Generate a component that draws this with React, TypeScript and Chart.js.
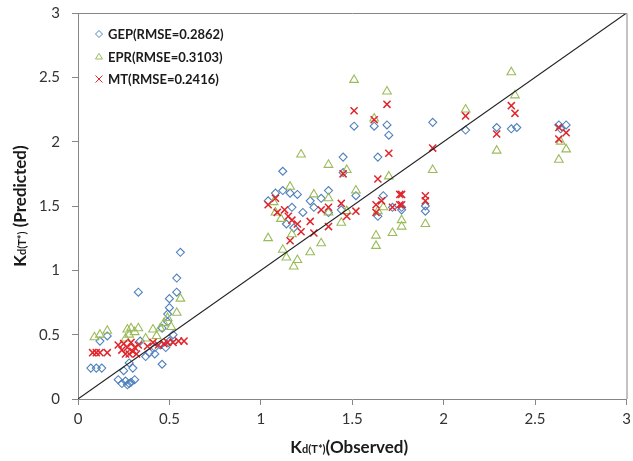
import { useEffect, useRef } from 'react';
import { Chart, registerables } from 'chart.js';

Chart.register(...registerables);

// ---- Data ----
const gepObserved = [
  0.07, 0.10, 0.13, 0.16, 0.12, 0.22, 0.24, 0.26, 0.27, 0.29, 0.31, 0.28, 0.25, 0.30, 0.28, 0.33,
  0.37, 0.39, 0.42, 0.42, 0.46, 0.45, 0.48, 0.50, 0.46, 0.49, 0.49, 0.50, 0.50, 0.54, 0.54, 0.56,
  0.34, 0.52,
  1.51, 1.62, 1.69, 1.70, 1.64, 1.45, 1.12, 1.45, 1.12, 1.08, 1.16, 1.20, 1.33, 1.37, 1.27, 1.04,
  1.17, 1.29, 1.23, 1.37, 1.44, 1.52, 1.67, 1.14, 1.18, 1.72, 1.77, 1.64,
  1.94, 2.12, 2.29, 2.37, 2.40, 2.63, 2.67, 2.64, 1.90, 1.90, 1.77,
];
const gepPredicted = [
  0.24, 0.24, 0.24, 0.49, 0.45, 0.15, 0.12, 0.14, 0.11, 0.13, 0.15, 0.12, 0.22, 0.24, 0.28, 0.83,
  0.33, 0.36, 0.35, 0.40, 0.27, 0.42, 0.40, 0.45, 0.55, 0.60, 0.66, 0.71, 0.78, 0.83, 0.94, 1.14,
  0.45, 0.50,
  2.12, 2.12, 2.13, 2.05, 1.88, 1.88, 1.77, 1.76, 1.62, 1.60, 1.60, 1.59, 1.56, 1.62, 1.54, 1.54,
  1.49, 1.49, 1.45, 1.45, 1.47, 1.58, 1.58, 1.36, 1.33, 1.49, 1.49, 1.42,
  2.15, 2.09, 2.11, 2.10, 2.11, 2.13, 2.13, 2.10, 1.50, 1.46, 1.47,
];

const eprObserved = [
  0.09, 0.12, 0.16, 0.26, 0.28, 0.27, 0.29, 0.33, 0.37, 0.41, 0.43, 0.45, 0.47, 0.49, 0.54, 0.56,
  0.31, 0.51,
  1.51, 1.69, 1.62, 1.22, 1.37, 1.47, 1.16, 1.29, 1.37, 1.52, 1.70, 1.07, 1.08, 1.11, 1.37, 1.44,
  1.47, 1.17, 1.04, 1.33, 1.12, 1.27, 1.14, 1.20, 1.18, 1.63, 1.63, 1.72, 1.77, 1.77, 1.64, 1.67,
  2.37, 2.39, 2.12, 1.94, 2.29, 2.63, 2.67, 2.64, 1.90,
];
const eprPredicted = [
  0.48, 0.50, 0.53, 0.47, 0.50, 0.54, 0.55, 0.55, 0.47, 0.54, 0.49, 0.55, 0.59, 0.63, 0.67, 0.78,
  0.52, 0.56,
  2.48, 2.39, 2.18, 1.90, 1.82, 1.78, 1.65, 1.59, 1.56, 1.62, 1.73, 1.53, 1.45, 1.40, 1.45, 1.37,
  1.46, 1.28, 1.25, 1.21, 1.16, 1.14, 1.10, 1.08, 1.03, 1.27, 1.19, 1.29, 1.39, 1.34, 1.46, 1.49,
  2.54, 2.36, 2.25, 1.78, 1.93, 1.86, 1.94, 2.00, 1.36,
];

const mtObserved = [
  0.08, 0.10, 0.12, 0.16, 0.22, 0.24, 0.25, 0.27, 0.28, 0.29, 0.30, 0.32, 0.33, 0.38, 0.41, 0.44,
  0.47, 0.49, 0.52, 0.55, 0.58, 0.26, 0.31,
  1.51, 1.69, 1.62, 1.70, 1.45, 1.64, 1.04, 1.08, 1.09, 1.13, 1.15, 1.17, 1.20, 1.22, 1.16, 1.27,
  1.29, 1.33, 1.37, 1.37, 1.44, 1.47, 1.52, 1.63, 1.63, 1.66, 1.72, 1.77, 1.77,
  2.12, 2.37, 2.39, 2.29, 1.94, 2.63, 2.67, 2.63, 1.90, 1.90, 1.76, 1.76,
];
const mtPredicted = [
  0.36, 0.36, 0.36, 0.36, 0.42, 0.38, 0.43, 0.40, 0.35, 0.44, 0.37, 0.35, 0.42, 0.41, 0.44, 0.42,
  0.43, 0.44, 0.44, 0.45, 0.45, 0.35, 0.40,
  2.24, 2.29, 2.17, 1.91, 1.75, 1.71, 1.51, 1.56, 1.45, 1.47, 1.42, 1.39, 1.36, 1.30, 1.23, 1.38,
  1.29, 1.47, 1.34, 1.49, 1.52, 1.42, 1.46, 1.51, 1.45, 1.54, 1.49, 1.59, 1.51,
  2.20, 2.28, 2.22, 2.06, 1.95, 2.11, 2.07, 2.02, 1.58, 1.54, 1.59, 1.51,
];

const diagonalX = [0, 3];
const diagonalY = [0, 3];

const tickValues = [0, 0.5, 1, 1.5, 2, 2.5, 3];
const seriesNames = ['GEP(RMSE=0.2862)', 'EPR(RMSE=0.3103)', 'MT(RMSE=0.2416)'];
const seriesColors = ['#4F81BD', '#9BBB59', '#E0262C'];
const seriesShapes = ['diamond', 'triangle', 'cross'];

const FONT = 'Lato, "Open Sans", "DejaVu Sans", sans-serif';

function toPoints(xs: number[], ys: number[]) {
  return xs.map((x, i) => ({ x, y: ys[i] }));
}

function drawShape(ctx: CanvasRenderingContext2D, shape: string, x: number, y: number, r: number) {
  ctx.beginPath();
  if (shape === 'diamond') {
    ctx.moveTo(x, y - r);
    ctx.lineTo(x + r, y);
    ctx.lineTo(x, y + r);
    ctx.lineTo(x - r, y);
    ctx.closePath();
  } else if (shape === 'triangle') {
    const h = r * 0.9;
    ctx.moveTo(x, y - h);
    ctx.lineTo(x + r, y + h * 0.8);
    ctx.lineTo(x - r, y + h * 0.8);
    ctx.closePath();
  } else {
    ctx.moveTo(x - r, y - r);
    ctx.lineTo(x + r, y + r);
    ctx.moveTo(x + r, y - r);
    ctx.lineTo(x - r, y + r);
  }
  ctx.stroke();
}

function drawRich(
  ctx: CanvasRenderingContext2D,
  parts: { t: string; size: number }[],
  cx: number,
  cy: number
) {
  let total = 0;
  const widths = parts.map((p) => {
    ctx.font = `bold ${p.size}px ${FONT}`;
    const w = ctx.measureText(p.t).width;
    total += w;
    return w;
  });
  let x = cx - total / 2;
  ctx.textBaseline = 'alphabetic';
  ctx.textAlign = 'left';
  parts.forEach((p, i) => {
    ctx.font = `bold ${p.size}px ${FONT}`;
    ctx.fillText(p.t, x, cy);
    x += widths[i];
  });
}

const decorPlugin = {
  id: 'decor',
  afterDraw(chart: any) {
    const { ctx, chartArea } = chart;
    const { left, right, top, bottom } = chartArea;
    ctx.save();
    // frame (top and right)
    ctx.strokeStyle = '#868686';
    ctx.lineWidth = 1;
    ctx.beginPath();
    ctx.moveTo(left, top + 0.5);
    ctx.lineTo(right + 0.5, top + 0.5);
    ctx.lineTo(right + 0.5, bottom);
    ctx.stroke();

    // legend
    seriesNames.forEach((name, i) => {
      const y = top + 21 + i * 22.5;
      ctx.strokeStyle = seriesColors[i];
      ctx.lineWidth = 1;
      drawShape(ctx, seriesShapes[i], left + 21, y, 3.5);
      ctx.fillStyle = '#1a1a1a';
      ctx.font = `bold 13px ${FONT}`;
      ctx.textAlign = 'left';
      ctx.textBaseline = 'middle';
      ctx.fillText(name, left + 30, y + 1);
    });

    // axis titles
    ctx.fillStyle = '#1a1a1a';
    const cx = (left + right) / 2;
    drawRich(
      ctx,
      [
        { t: 'K', size: 17 },
        { t: 'd(T*)', size: 11 },
        { t: '(Observed)', size: 17 },
      ],
      cx - 3,
      453
    );
    ctx.save();
    ctx.translate(26, (top + bottom) / 2);
    ctx.rotate(-Math.PI / 2);
    drawRich(
      ctx,
      [
        { t: 'K', size: 17 },
        { t: 'd(T*)', size: 11 },
        { t: ' (Predicted)', size: 17 },
      ],
      0,
      0
    );
    ctx.restore();
    ctx.restore();
  },
};

export default function App() {
  const canvasRef = useRef<HTMLCanvasElement | null>(null);

  useEffect(() => {
    if (!canvasRef.current) return;
    const markerStyle = (i: number) => ({
      borderColor: seriesColors[i],
      backgroundColor: 'rgba(0,0,0,0)',
      borderWidth: 1.1,
      showLine: false,
    });
    const chart = new Chart(canvasRef.current, {
      type: 'scatter',
      data: {
        datasets: [
          {
            label: 'diagonal',
            data: toPoints(diagonalX, diagonalY),
            showLine: true,
            borderColor: '#222',
            borderWidth: 1.1,
            pointRadius: 0,
            pointHoverRadius: 0,
          } as any,
          {
            label: seriesNames[2],
            data: toPoints(mtObserved, mtPredicted),
            ...markerStyle(2),
            borderWidth: 1.5,
            pointStyle: 'crossRot',
            pointRadius: 5,
          },
          {
            label: seriesNames[1],
            data: toPoints(eprObserved, eprPredicted),
            ...markerStyle(1),
            pointStyle: 'triangle',
            pointRadius: 5,
          },
          {
            label: seriesNames[0],
            data: toPoints(gepObserved, gepPredicted),
            ...markerStyle(0),
            pointStyle: 'rectRot',
            pointRadius: 4,
          },
        ],
      },
      options: {
        responsive: false,
        animation: false,
        events: [],
        layout: { padding: { top: 13, right: 0, left: 0, bottom: 0 } },
        plugins: {
          legend: { display: false },
          tooltip: { enabled: false },
          title: { display: false },
        },
        scales: {
          x: {
            type: 'linear',
            min: 0,
            max: 3,
            afterFit: (s: any) => {
              s.height = 62;
              s.paddingRight = 5;
              s.paddingLeft = 0;
            },
            afterBuildTicks: (s: any) => {
              s.ticks = tickValues.map((v) => ({ value: v }));
            },
            ticks: {
              font: { family: FONT, size: 15 },
              color: '#333',
              padding: 5,
              callback: (v: any) => String(v),
            },
            grid: {
              display: true,
              drawOnChartArea: false,
              drawTicks: true,
              tickLength: 6,
              color: '#868686',
            },
            border: { display: true, color: '#868686' },
          },
          y: {
            type: 'linear',
            min: 0,
            max: 3,
            afterFit: (s: any) => {
              s.width = 78;
              s.paddingTop = 0;
              s.paddingBottom = 0;
            },
            afterBuildTicks: (s: any) => {
              s.ticks = tickValues.map((v) => ({ value: v }));
            },
            ticks: {
              font: { family: FONT, size: 15 },
              color: '#333',
              padding: 12,
              callback: (v: any) => String(v),
            },
            grid: {
              display: true,
              drawOnChartArea: false,
              drawTicks: true,
              tickLength: 6,
              color: '#868686',
            },
            border: { display: true, color: '#868686' },
          },
        },
      },
      plugins: [decorPlugin],
    });
    return () => chart.destroy();
  }, []);

  return (
    <div style={{ position: 'fixed', left: 0, top: 0, width: 633, height: 461, background: '#fff' }}>
      <canvas ref={canvasRef} width={633} height={461} style={{ width: 633, height: 461 }} />
    </div>
  );
}
